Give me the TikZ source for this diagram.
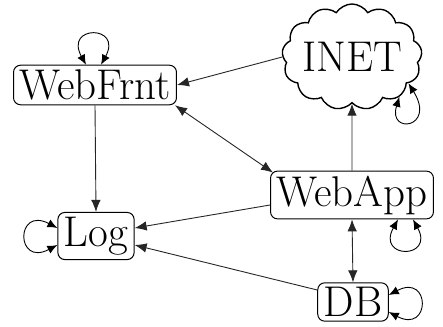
\documentclass[tikz,border=0pt]{standalone}
\usepackage{fontspec}
\usetikzlibrary{arrows.meta,shapes.symbols}
\begin{document}
\begin{tikzpicture}[x=1pt,y=-1pt,
  bigfont/.style={font=\fontsize{43}{45}\selectfont},
  box/.style={draw,rounded corners=7pt,line width=1pt,inner xsep=6pt,inner ysep=4.5pt,bigfont},
  cloudbox/.style={draw,cloud,cloud puffs=13,cloud puff arc=115,cloud ignores aspect,line width=1.4pt,minimum width=140pt,minimum height=106pt,inner sep=0pt},
  conn/.style={line width=0.9pt,draw=black!85,-{Latex[length=12pt,width=9.5pt]}},
  biconn/.style={line width=0.9pt,draw=black!85,{Latex[length=12pt,width=9.5pt]}-{Latex[length=12pt,width=9.5pt]}},
  selfloop/.style={line width=0.9pt,{Latex[length=10pt,width=8.5pt]}-{Latex[length=10pt,width=8.5pt]}}]
\useasboundingbox (0,0) rectangle (443,326);
\node[box] (wf) at (95,85) {WebFrnt};
\node[cloudbox,label={[bigfont,inner sep=0pt]center:INET}] (inet) at (352,57) {};
\node[box] (wa) at (352,195) {WebApp};
\node[box] (log) at (96,236) {Log};
\node[box] (db) at (353,302) {DB};
\coordinate (il1) at (inet.-40);
\coordinate (il2) at (inet.-25);
% edges
\draw[conn] (inet.west) -- (wf.east);
\draw[biconn] ([xshift=-2pt]wf.south east) -- ([xshift=3pt,yshift=-2pt]wa.north west);
\draw[conn] (wf.south) -- (log.north);
\draw[conn] (wa.north) -- (inet.south);
\draw[conn] ([yshift=-10pt]wa.west) -- ([yshift=8pt]log.east);
\draw[conn] ([yshift=12pt]db.west) -- ([yshift=-9pt]log.east);
\draw[biconn] (wa.south) -- (db.north);
% self loops
\draw[selfloop] ([xshift=-9pt]wf.north) .. controls +(-22,-40) and +(22,-40) .. ([xshift=6pt]wf.north);
\draw[selfloop] (il1) .. controls +(-12,38) and +(28,45) .. (il2);
\draw[selfloop] ([xshift=46pt]wa.south) .. controls +(-22,40) and +(22,40) .. ([xshift=61pt]wa.south);
\draw[selfloop] ([yshift=8pt]log.west) .. controls +(-42,-22) and +(-42,22) .. ([yshift=-9pt]log.west);
\draw[selfloop] ([yshift=7pt]db.east) .. controls +(42,-22) and +(42,22) .. ([yshift=-10pt]db.east);
\end{tikzpicture}
\end{document}
